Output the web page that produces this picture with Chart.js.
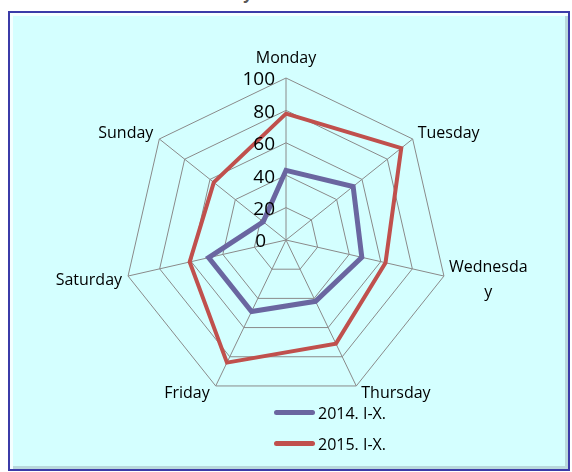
<!DOCTYPE html>
<html lang="en">
<head>
    <meta charset="UTF-8">
    <title>Days of the week</title>
    <style>
        body { margin: 0; background: #fff; width: 572px; height: 472px; overflow: hidden; position: relative; font-family: "Open Sans", sans-serif; }
        #title { position: absolute; top: -18px; left: 0; width: 572px; text-align: center; font-size: 16px; font-weight: bold; color: #595959; padding-left: 10px; box-sizing: border-box; }
        #frame {
            position: absolute; left: 8px; top: 11px; width: 562px; height: 460px;
            box-sizing: border-box; background: #D4FFFF;
            border: 2px solid #3b3ba8;
            box-shadow: inset 3px 3px 0 #f4ffff, inset -3px -3px 0 #b8d8dc;
        }
        #chart { position: absolute; left: 0; top: 0; }
        #legend { position: absolute; left: 274px; top: 397px; font-size: 16px; color: #000; }
        .item { display: flex; align-items: center; height: 31px; }
        .swatch { width: 41px; height: 5px; border-radius: 3px; margin-right: 3px; }
    </style>
</head>
<body>
<script src="https://cdn.jsdelivr.net/npm/chart.js"></script>
<div id="title">days of the week</div>
<div id="frame"></div>
<canvas id="chart" width="572" height="472"></canvas>
<div id="legend"></div>

<script>
// days on the axes (Wednesday wraps like in the original)
const days = ['Monday', 'Tuesday', ['Wednesda', 'y'], 'Thursday', 'Friday', 'Saturday', 'Sunday'];
const tickValues = [0, 20, 40, 60, 80, 100];
const values2014 = [43, 53, 48, 42, 49, 49, 18];
const values2015 = [78, 91, 63, 71, 84, 61, 57];

// tick numbers left of the Monday axis + day names placed like excel does
const radarText = {
    id: 'radarText',
    afterDraw(chart) {
        const scale = chart.scales.r;
        const ctx = chart.ctx;
        const xC = scale.xCenter, yC = scale.yCenter, r = scale.drawingArea;
        ctx.save();
        ctx.fillStyle = '#000';
        ctx.textBaseline = 'middle';

        ctx.font = '19px "Open Sans", sans-serif';
        ctx.textAlign = 'right';
        tickValues.forEach(v => {
            const d = scale.getDistanceFromCenterForValue(v);
            const x = v === 0 ? xC - 20 : xC - 11;
            ctx.fillText(String(v), x, yC - d + 2);
        });

        ctx.font = '16px "Open Sans", sans-serif';
        ctx.textAlign = 'center';
        const lineH = 25;
        chart.data.labels.forEach((lab, i) => {
            const lines = Array.isArray(lab) ? lab : [lab];
            const w = Math.max(...lines.map(s => ctx.measureText(s).width));
            const p = scale.getPointPosition(i, r);
            const dx = p.x - xC;
            let cx, cy;
            if (Math.abs(dx) < 1) {
                cx = p.x;
                cy = p.y - 20;
            } else {
                cx = dx > 0 ? p.x + 5 + w / 2 : p.x - 6 - w / 2;
                if (p.y < yC) cy = p.y - 6;
                else if (p.y > yC + r * 0.5) cy = p.y + 7;
                else cy = p.y + 4;
            }
            const top = cy - (lines.length - 1) * lineH / 2;
            lines.forEach((s, k) => ctx.fillText(s, cx, top + k * lineH));
        });
        ctx.restore();
    }
};

const ctx = document.getElementById('chart').getContext('2d');
const myChart = new Chart(ctx, {
    type: 'radar',
    data: {
        labels: days,
        datasets: [{
            label: '2014. I-X.',
            data: values2014,
            borderColor: '#6a66a0',
            borderWidth: 5,
            fill: false,
            pointRadius: 0,
            tension: 0
        }, {
            label: '2015. I-X.',
            data: values2015,
            borderColor: '#c0504d',
            borderWidth: 4,
            fill: false,
            pointRadius: 0,
            tension: 0
        }]
    },
    options: {
        responsive: false,
        animation: false,
        layout: { padding: { top: 78, bottom: 70, left: 124, right: 124 } },
        plugins: {
            legend: { display: false },
            tooltip: { enabled: false }
        },
        scales: {
            r: {
                min: 0,
                max: 100,
                ticks: { stepSize: 20, display: false },
                grid: { color: '#8a8a8a', lineWidth: 1, circular: false },
                angleLines: { color: '#8a8a8a', lineWidth: 1 },
                pointLabels: { display: false }
            }
        }
    },
    plugins: [radarText]
});

// html legend, stacked like the original
const legend = document.getElementById('legend');
myChart.data.datasets.forEach(ds => {
    const row = document.createElement('div');
    row.className = 'item';
    const sw = document.createElement('div');
    sw.className = 'swatch';
    sw.style.background = ds.borderColor;
    const txt = document.createElement('span');
    txt.textContent = ds.label;
    row.appendChild(sw);
    row.appendChild(txt);
    legend.appendChild(row);
});
</script>
</body>
</html>
